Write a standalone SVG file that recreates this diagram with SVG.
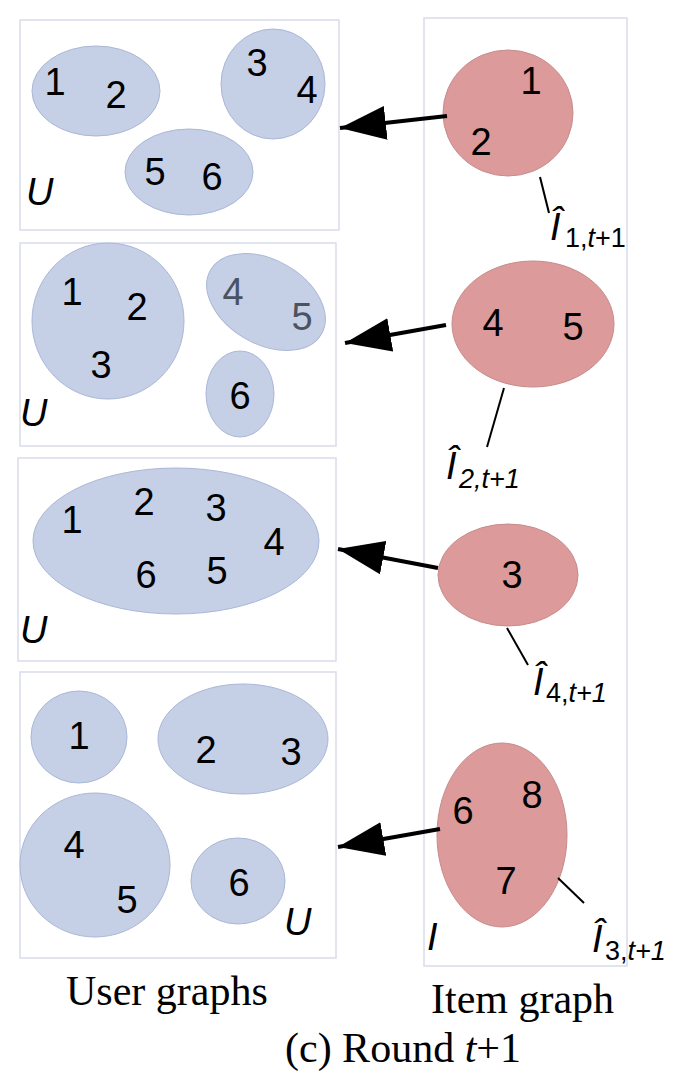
<svg xmlns="http://www.w3.org/2000/svg" width="692" height="1082" viewBox="0 0 692 1082">
<style>
.box{fill:#fff;stroke:#d9ddec;stroke-width:1.5}
.u{fill:#c5d0e6;stroke:#aab7d6;stroke-width:1}
.r{fill:#dc9a9a;stroke:#c68c8c;stroke-width:1}
.n{font-family:"Liberation Sans",Arial,sans-serif;font-size:38px;fill:#000;text-anchor:middle}
.g{fill:#4b5363}
.it{font-family:"Liberation Sans",Arial,sans-serif;font-size:38px;font-style:italic;fill:#000}
.sub{font-family:"Liberation Sans",Arial,sans-serif;font-size:27px;fill:#000}
.cap{font-family:"Liberation Serif","Times New Roman",serif;font-size:42px;fill:#000}
.arr{stroke:#000;stroke-width:4;fill:none}
.lead{stroke:#000;stroke-width:2}
</style>
<defs>
<marker id="ah" markerUnits="userSpaceOnUse" markerWidth="48" markerHeight="34" refX="46" refY="17" orient="auto">
<path d="M0,0 L46,17 L0,34 z" fill="#000"/>
</marker>
<clipPath id="clipR"><rect x="0" y="0" width="666" height="1082"/></clipPath>
</defs>
<rect width="692" height="1082" fill="#fff"/>

<g id="itemBox"><rect class="box" x="424" y="18" width="203" height="948"/></g>

<g id="user1">
<rect class="box" x="20" y="20" width="319" height="210"/>
<ellipse class="u" cx="96" cy="91" rx="64" ry="45"/>
<ellipse class="u" cx="273" cy="84" rx="52" ry="55"/>
<ellipse class="u" cx="189" cy="172" rx="64" ry="43"/>
<text class="n" x="55" y="95">1</text>
<text class="n" x="116" y="108">2</text>
<text class="n" x="257" y="76">3</text>
<text class="n" x="307" y="103">4</text>
<text class="n" x="155" y="185">5</text>
<text class="n" x="212" y="190">6</text>
<text class="it" x="26" y="205">U</text>
</g>

<g id="user2">
<rect class="box" x="20" y="243" width="316" height="203"/>
<ellipse class="u" cx="108" cy="321" rx="76" ry="78"/>
<ellipse class="u" cx="266" cy="302" rx="64" ry="42" transform="rotate(30 266 302)"/>
<ellipse class="u" cx="240" cy="394" rx="34" ry="43"/>
<text class="n" x="72" y="305">1</text>
<text class="n" x="137" y="320">2</text>
<text class="n" x="101" y="378">3</text>
<text class="n g" x="233" y="305">4</text>
<text class="n g" x="302" y="330">5</text>
<text class="n" x="240" y="409">6</text>
<text class="it" x="20" y="426">U</text>
</g>

<g id="user3">
<rect class="box" x="18" y="458" width="318" height="203"/>
<ellipse class="u" cx="176" cy="541" rx="143" ry="73"/>
<text class="n" x="72" y="533">1</text>
<text class="n" x="144" y="515">2</text>
<text class="n" x="216" y="521">3</text>
<text class="n" x="274" y="555">4</text>
<text class="n" x="146" y="588">6</text>
<text class="n" x="217" y="584">5</text>
<text class="it" x="20" y="643">U</text>
</g>

<g id="user4">
<rect class="box" x="20" y="672" width="316" height="286"/>
<ellipse class="u" cx="79" cy="737" rx="48" ry="46"/>
<ellipse class="u" cx="243" cy="739" rx="85" ry="55"/>
<ellipse class="u" cx="95" cy="865" rx="75" ry="72"/>
<ellipse class="u" cx="238" cy="881" rx="47" ry="43"/>
<text class="n" x="79" y="749">1</text>
<text class="n" x="206" y="763">2</text>
<text class="n" x="291" y="765">3</text>
<text class="n" x="74" y="858">4</text>
<text class="n" x="127" y="913">5</text>
<text class="n" x="239" y="896">6</text>
<text class="it" x="284" y="935">U</text>
</g>

<g id="item1">
<ellipse class="r" cx="508" cy="113" rx="65" ry="63"/>
<text class="n" x="531" y="94">1</text>
<text class="n" x="481" y="155">2</text>
</g>
<g id="item2">
<ellipse class="r" cx="533" cy="324" rx="81" ry="63"/>
<text class="n" x="493" y="336">4</text>
<text class="n" x="573" y="340">5</text>
</g>
<g id="item3">
<ellipse class="r" cx="508" cy="575" rx="70" ry="51"/>
<text class="n" x="512" y="588">3</text>
</g>
<g id="item4">
<ellipse class="r" cx="502" cy="835" rx="65" ry="92"/>
<text class="n" x="463" y="824">6</text>
<text class="n" x="532" y="808">8</text>
<text class="n" x="506" y="894">7</text>
<text class="it" x="427" y="950">I</text>
</g>

<g id="connectors">
<line class="arr" x1="447" y1="116" x2="340" y2="128" marker-end="url(#ah)"/>
<line class="arr" x1="446" y1="325" x2="345" y2="343" marker-end="url(#ah)"/>
<line class="arr" x1="438" y1="568" x2="338" y2="549" marker-end="url(#ah)"/>
<line class="arr" x1="440" y1="829" x2="338" y2="847" marker-end="url(#ah)"/>
<line class="lead" x1="540" y1="177" x2="549" y2="213"/>
<line class="lead" x1="504" y1="388" x2="487" y2="447"/>
<line class="lead" x1="507" y1="628" x2="528" y2="665"/>
<line class="lead" x1="558" y1="878" x2="584" y2="903"/>
</g>

<g id="label1">
<text class="it" x="550" y="240">Î</text>
<text class="sub" x="565" y="247">1,<tspan font-style="italic">t</tspan>+1</text>
</g>
<g id="label2">
<text class="it" x="446" y="479">Î</text>
<text class="sub" x="459" y="488" font-style="italic">2,t+1</text>
</g>
<g id="label3">
<text class="it" x="533" y="695">Î</text>
<text class="sub" x="546" y="702">4,<tspan font-style="italic">t+1</tspan></text>
</g>
<g id="label4" clip-path="url(#clipR)">
<text class="it" x="592" y="952">Î</text>
<text class="sub" x="605" y="960">3,<tspan font-style="italic">t+1</tspan></text>
</g>

<g id="captions">
<text class="cap" x="66" y="1005">User graphs</text>
<text class="cap" x="431" y="1013">Item graph</text>
<text class="cap" x="285" y="1062">(c) Round <tspan font-style="italic">t</tspan>+1</text>
</g>
</svg>
